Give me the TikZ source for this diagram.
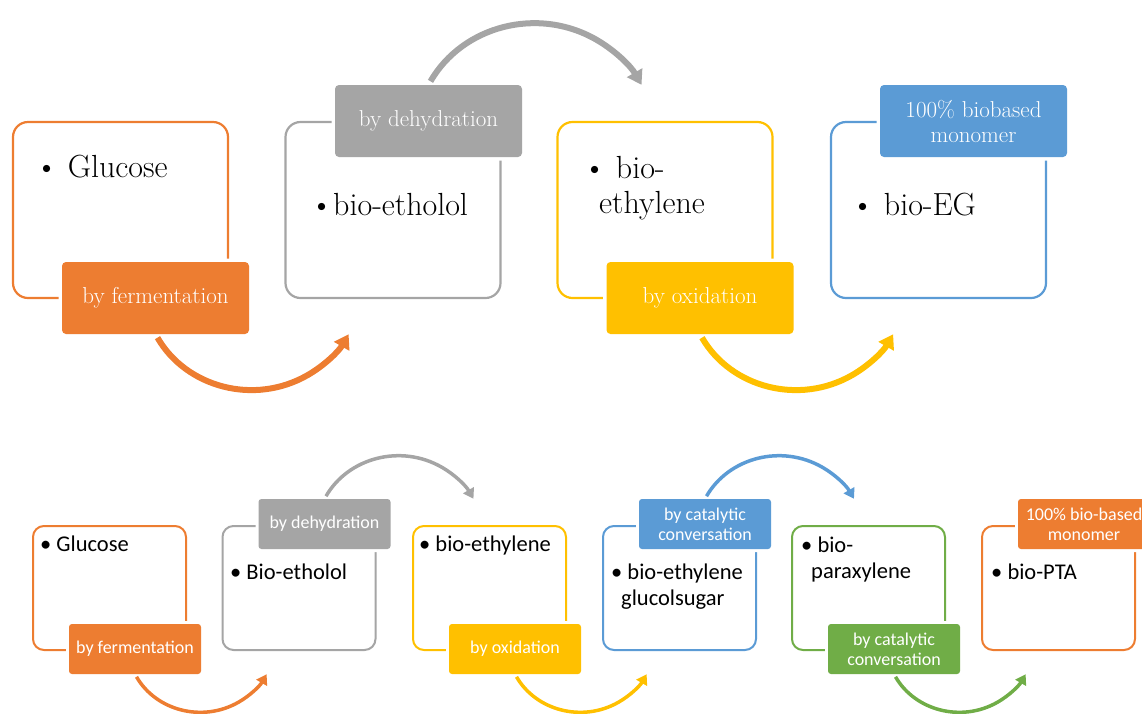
\documentclass[tikz,border=0pt]{standalone}
\usepackage{fontspec}
\newfontfamily\calibri{Carlito}
\usetikzlibrary{arrows.meta}

\definecolor{accorange}{HTML}{ED7D31}
\definecolor{accgrey}{HTML}{A5A5A5}
\definecolor{accyellow}{HTML}{FFC000}
\definecolor{accblue}{HTML}{5B9BD5}
\definecolor{accgreen}{HTML}{70AD47}

\begin{document}
\begin{tikzpicture}[
            x=1pt, y=-1pt,
            box/.style={draw=#1, line width=2.2pt, rounded corners=15pt, minimum width=215pt, minimum height=176pt, inner sep=0pt},
            tag/.style={fill=#1, text=white, rounded corners=4pt, minimum width=187pt, minimum height=72pt, inner sep=0pt,
              align=center, font=\fontsize{23}{25}\selectfont, preaction={draw=white, line width=7pt}},
            item/.style={anchor=base west, inner sep=0pt, align=left, font=\fontsize{32}{35}\selectfont},
            flow/.style={draw=#1, line width=6pt, shorten <=4pt, -{Triangle[length=14pt, width=17pt]}},
            smallbox/.style={draw=#1, line width=2pt, rounded corners=11pt, minimum width=153pt, minimum height=124pt, inner sep=0pt},
            smalltag/.style={fill=#1, text=white, rounded corners=3pt, minimum width=132pt, minimum height=50pt, inner sep=0pt,
              align=center, font=\calibri\fontsize{18}{20}\selectfont, preaction={draw=white, line width=6pt}},
            smallitem/.style={anchor=base west, inner sep=0pt, align=left, font=\calibri\fontsize{22.5}{26}\selectfont},
            smallflow/.style={draw=#1, line width=3.5pt, shorten <=3pt, -{Triangle[length=10pt, width=12pt]}}
          ]

          \useasboundingbox (0,0) rectangle (1142,713);
          \clip (0,0) rectangle (1142,713);

          % Upper chain: glucose to bio-EG
          \node[box=accorange] (glu) at (120.5,210) {};
          \node[box=accgrey] (eol) at (393,210) {};
          \node[box=accyellow] (ethy) at (665,210) {};
          \node[box=accblue] (beg) at (938.5,210) {};

          \node[tag=accorange] (fer) at (155.5,298) {by fermentation};
          \node[tag=accgrey] (deh) at (428.5,121) {by dehydration};
          \node[tag=accyellow] (oxi) at (700,298) {by oxidation};
          \node[tag=accblue] (mon) at (973.5,121) {100\% biobased\\monomer};

          % base of a two-line text is its last line
          \node[item] (glu-txt) at (35,177) {\textbullet\ Glucose};
          \node[item] (eol-txt) at (310,215) {\textbullet bio-etholol};
          \node[item] (ethy-txt) at (583,213) {\textbullet\ bio-\\\hspace*{16pt}ethylene};
          \node[item] (beg-txt) at (851,215) {\textbullet\ bio-EG};

          \draw[flow=accorange] (fer.south) arc[start angle=150, end angle=30, radius=111.5];
          \draw[flow=accgrey] (deh.north) arc[start angle=210, end angle=330, radius=123];
          \draw[flow=accyellow] (oxi.south) arc[start angle=150, end angle=30, radius=111.5];

          % Lower chain: glucose to bio-PTA
          \node[smallbox=accorange] (sglu) at (109.5,588) {};
          \node[smallbox=accgrey] (seol) at (299,588) {};
          \node[smallbox=accyellow] (sethy) at (489.5,588) {};
          \node[smallbox=accblue] (segl) at (679.5,588) {};
          \node[smallbox=accgreen] (spx) at (868.5,588) {};
          \node[smallbox=accorange] (spta) at (1058.5,588) {};

          \node[smalltag=accorange] (sfer) at (135,649) {by fermentation};
          \node[smalltag=accgrey] (sdeh) at (324.5,524) {by dehydration};
          \node[smalltag=accyellow] (soxi) at (515,649) {by oxidation};
          \node[smalltag=accblue] (scat) at (705,524) {by catalytic\\conversation};
          \node[smalltag=accgreen] (scat2) at (894,649) {by catalytic\\conversation};
          \node[smalltag=accorange] (smon) at (1084,524) {100\% bio-based\\monomer};

          \node[smallitem] (sglu-txt) at (40,551) {\textbullet\ Glucose};
          \node[smallitem] (seol-txt) at (230,579) {\textbullet\ Bio-etholol};
          \node[smallitem] (sethy-txt) at (419,551) {\textbullet\ bio-ethylene};
          \node[smallitem] (segl-txt) at (611,605) {\textbullet\ bio-ethylene\\\hspace*{10pt}glucolsugar};
          \node[smallitem] (spx-txt) at (801,578) {\textbullet\ bio-\\\hspace*{10pt}paraxylene};
          \node[smallitem] (spta-txt) at (991,579) {\textbullet\ bio-PTA};

          \draw[smallflow=accorange] (sfer.south) arc[start angle=150, end angle=30, radius=76];
          \draw[smallflow=accgrey] (sdeh.north) arc[start angle=210, end angle=330, radius=86];
          \draw[smallflow=accyellow] (soxi.south) arc[start angle=150, end angle=30, radius=76];
          \draw[smallflow=accblue] (scat.north) arc[start angle=210, end angle=330, radius=86];
          \draw[smallflow=accgreen] (scat2.south) arc[start angle=150, end angle=30, radius=76];

        \end{tikzpicture}
\end{document}
